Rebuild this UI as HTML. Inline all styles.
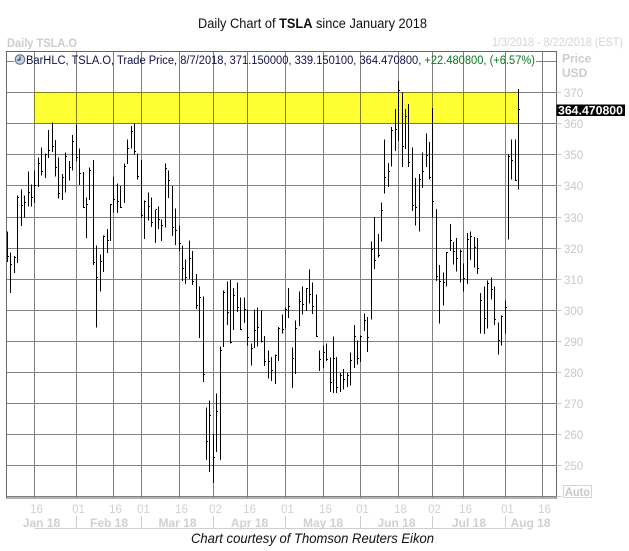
<!DOCTYPE html>
<html>
<head>
<meta charset="utf-8">
<title>Daily Chart of TSLA since January 2018</title>
<style>
html,body{margin:0;padding:0;background:#fff;}
svg{display:block;}
text{font-family:"Liberation Sans",sans-serif;}
</style>
</head>
<body>
<svg id="chart" xmlns="http://www.w3.org/2000/svg" width="629" height="551" viewBox="0 0 629 551">
  <rect x="0" y="0" width="629" height="551" fill="#ffffff"/>
  <text x="198" y="28" font-size="14" fill="#111111" textLength="229" lengthAdjust="spacingAndGlyphs">Daily Chart of <tspan font-weight="bold">TSLA</tspan> since January 2018</text>
  <text x="7" y="47" font-size="12" font-weight="bold" fill="#cccccc" textLength="70" lengthAdjust="spacingAndGlyphs">Daily TSLA.O</text>
  <text x="492" y="46" font-size="12" fill="#d4d4d4" textLength="131" lengthAdjust="spacingAndGlyphs">1/3/2018 - 8/22/2018 (EST)</text>
  <g id="grid"></g>
  <rect id="zone" fill="#ffff33" style="mix-blend-mode:multiply"/>
  <g id="bars"></g>
  <rect x="6.5" y="51.5" width="550" height="446.5" fill="none" stroke="#666666" stroke-width="1" shape-rendering="crispEdges"/>
  <g id="yaxis"></g>
  <g id="xaxis"></g>
  <g>
    <circle cx="20" cy="59.5" r="4.8" fill="#c5d4e6" stroke="#52688a" stroke-width="1"/>
    <path d="M20 56.5V60H17" fill="none" stroke="#222222" stroke-width="1"/>
    <text x="26" y="64" font-size="11.5" fill="#10104a" textLength="509" lengthAdjust="spacingAndGlyphs">BarHLC, TSLA.O, Trade Price, 8/7/2018, 371.150000, 339.150100, 364.470800, <tspan fill="#0a7a1e">+22.480800, (+6.57%)</tspan></text>
  </g>
  <text x="562" y="62.5" font-size="12" font-weight="bold" fill="#cccccc">Price</text>
  <text x="562" y="77" font-size="12" font-weight="bold" fill="#cccccc">USD</text>
  <rect x="556.5" y="104.5" width="68.5" height="11.5" fill="#000000"/>
  <text x="558" y="114.5" font-size="12" font-weight="bold" fill="#ffffff" textLength="65" lengthAdjust="spacingAndGlyphs">364.470800</text>
  <rect x="563.5" y="485.5" width="28" height="12" fill="#ffffff" stroke="#d4d4d4"/>
  <text x="565" y="496" font-size="11.5" font-weight="bold" fill="#c8c8c8" textLength="25" lengthAdjust="spacingAndGlyphs">Auto</text>
  <text x="191" y="543" font-size="14" font-style="italic" fill="#111111" textLength="243" lengthAdjust="spacingAndGlyphs">Chart courtesy of Thomson Reuters Eikon</text>
</svg>
<script>
const highs = [325.4,318.6,317.4,336.9,338.8,336.9,344.7,340.4,344.9,349.1,352.3,350.4,357.9,360.4,354.7,349.1,343.9,350.7,348.0,356.3,359.8,352.0,344.5,336.2,345.9,348.4,320.8,317.9,324.0,326.2,334.1,343.1,340.7,340.0,347.2,355.0,359.2,360.0,350.4,348.4,335.3,337.8,336.2,332.4,333.4,329.2,347.2,345.0,339.9,332.7,327.3,320.9,316.3,322.4,319.0,311.6,307.7,304.5,268.8,271.0,260.3,273.3,288.4,306.4,309.3,309.7,307.1,309.0,304.1,304.1,300.2,289.3,300.3,300.9,300.0,291.7,287.1,285.0,285.8,294.6,298.7,300.9,307.1,288.1,296.8,306.0,307.7,307.1,313.1,309.0,305.1,287.1,288.7,289.3,284.8,291.6,285.0,279.9,281.2,279.8,286.5,295.2,290.3,291.9,298.9,297.9,322.2,330.0,324.5,334.7,355.0,347.4,359.0,364.7,373.7,370.1,364.7,366.3,352.4,342.5,343.8,350.8,356.9,354.1,365.0,332.5,314.5,312.2,318.7,327.7,321.9,323.2,319.6,315.1,324.8,325.4,323.5,323.2,305.5,307.7,309.6,310.6,307.7,296.1,298.4,303.2,350.2,355.0,355.0,371.1];
const lows = [315.5,305.5,312.0,315.2,327.1,329.8,333.3,333.3,334.5,339.7,343.4,342.5,349.0,350.9,343.1,336.0,335.4,337.9,341.8,345.0,348.0,340.3,332.9,323.2,335.5,314.6,294.5,306.1,312.3,318.4,322.3,331.5,331.3,332.9,334.5,347.1,352.1,350.1,342.0,329.7,322.9,328.9,326.8,321.6,326.2,322.3,326.6,336.1,323.9,321.0,319.1,309.4,308.5,310.0,308.1,300.4,291.1,276.9,251.8,248.0,244.5,254.4,251.8,288.2,295.2,289.3,293.6,299.5,293.6,295.9,288.7,282.3,287.8,288.4,289.6,282.1,278.1,277.3,276.3,283.7,292.5,294.1,297.5,275.0,279.5,295.0,298.7,299.8,302.2,298.8,291.4,280.5,281.4,283.7,273.7,273.4,273.4,273.7,274.5,275.3,275.9,281.4,282.6,283.3,293.3,286.6,297.1,313.3,316.9,322.2,337.6,339.6,346.3,351.2,354.4,346.0,351.8,346.0,331.9,327.3,325.4,339.3,346.0,342.1,329.8,309.4,295.8,301.6,307.7,319.0,314.8,312.5,309.0,306.1,308.4,316.1,313.8,311.6,292.6,292.3,294.2,303.5,295.2,285.8,288.7,292.6,322.8,342.1,341.5,338.9];
const closes = [317.4,314.7,316.9,336.2,333.6,334.6,337.8,336.2,340.1,347.2,344.6,350.2,351.3,352.6,345.9,337.5,342.7,349.4,345.9,354.2,349.0,343.9,333.0,334.0,344.9,315.3,310.5,315.6,323.7,322.4,334.0,335.6,335.0,333.2,346.1,352.0,357.5,351.0,342.9,330.5,335.0,333.3,328.2,332.4,329.2,327.2,345.5,341.7,326.6,325.7,321.4,313.5,310.5,316.7,309.1,301.5,304.1,279.3,257.8,266.1,252.6,267.4,287.0,305.8,299.2,289.5,304.9,300.9,293.9,300.2,291.3,287.7,293.5,294.4,290.1,283.6,283.5,280.7,285.5,294.3,293.7,300.2,301.3,284.4,294.1,302.9,301.9,307.0,305.1,301.3,291.7,284.1,286.5,284.3,276.7,284.4,275.1,279.1,277.7,279.0,283.9,291.7,284.6,291.7,296.6,291.1,319.6,316.0,317.6,332.1,342.7,344.6,357.8,358.1,370.7,352.7,362.4,347.6,333.7,333.0,342.1,344.7,349.8,342.8,335.0,310.9,309.2,308.9,318.6,322.4,318.9,316.6,319.0,310.3,322.8,323.8,320.2,313.4,303.1,297.3,308.7,306.8,297.0,290.3,298.1,300.8,349.4,348.2,341.8,364.5];
const priceTicks = [370,360,350,340,330,320,310,300,290,280,270,260,250];
const hiddenPriceLines = [380,240];
const dayTickIndex = [8,20,31,39,50,60,70,81,92,103,114,124,133,145,156];
const dayTickLabels = ['16','01','16','01','16','02','16','01','16','01','18','02','16','01','16'];
const monthLabels = ['Jan 18','Feb 18','Mar 18','Apr 18','May 18','Jun 18','Jul 18','Aug 18'];
const monthStartIndex = [8,20,39,60,81,103,124,145];
const monthEndIndex = [20,39,60,81,103,124,145,150];
const zoneLow = 360;
const zoneHigh = 370;

const NS = 'http://www.w3.org/2000/svg';
function xRaw(i){ return 7.52 + 3.431 * i; }
function xPos(i){ return Math.floor(xRaw(i)) + 0.5; }
function yRaw(v){ return 92.6 + (370 - v) * 3.11; }
function yPos(v){ return Math.floor(yRaw(v)) + 0.5; }
function line(parent, x1, y1, x2, y2, stroke){
  const l = document.createElementNS(NS, 'line');
  l.setAttribute('x1', x1);
  l.setAttribute('y1', y1);
  l.setAttribute('x2', x2);
  l.setAttribute('y2', y2);
  l.setAttribute('stroke', stroke);
  l.setAttribute('stroke-width', 1);
  l.setAttribute('shape-rendering', 'crispEdges');
  parent.appendChild(l);
  return l;
}
function label(parent, x, y, str, size, weight, fill){
  const t = document.createElementNS(NS, 'text');
  t.setAttribute('x', x);
  t.setAttribute('y', y);
  t.setAttribute('font-size', size);
  t.setAttribute('font-weight', weight);
  t.setAttribute('fill', fill);
  t.textContent = str;
  parent.appendChild(t);
  return t;
}
const grid = document.getElementById('grid');
const bars = document.getElementById('bars');
const yaxis = document.getElementById('yaxis');
const xaxis = document.getElementById('xaxis');

priceTicks.forEach(function(v){
  const g = line(grid, 6.5, yPos(v), 556.5, yPos(v), '#808080');
  
  
  const tk = line(yaxis, 556.5, yPos(v), 561.5, yPos(v), '#c8c8c8');
  
  
  const t = label(yaxis, 564, yPos(v) + 4.5, String(v), 11.5, 'normal', '#c8c8c8');
  
  
});
hiddenPriceLines.forEach(function(v){
  const first = line(grid, 6.5, yPos(v), v === 380 ? 14 : 556.5, yPos(v), '#808080');
  
  
  if (v === 380) {
    const second = line(grid, 536, yPos(v), 556.5, yPos(v), '#808080');
    
    
  }
});
dayTickIndex.forEach(function(idx, k){
  const g = line(grid, xPos(idx), 51.5, xPos(idx), 497.5, '#808080');
  
  
  const t = label(xaxis, xPos(idx) + 2, 513, dayTickLabels[k], 11.5, 'normal', '#d0d0d0');
  t.setAttribute('text-anchor', 'middle');
  
  
});
const zone = document.getElementById('zone');
zone.setAttribute('x', xPos(dayTickIndex[0]) - 0.5);
zone.setAttribute('y', yPos(zoneHigh) - 0.5);
zone.setAttribute('width', xPos(highs.length - 1) - xPos(dayTickIndex[0]) + 0.5);
zone.setAttribute('height', yPos(zoneLow) - yPos(zoneHigh) + 1);

const baseline = line(xaxis, xPos(monthStartIndex[0]), 528.5, xPos(monthEndIndex[7]), 528.5, '#cfcfcf');


const stub = line(xaxis, 556.5, 496.5, 561.5, 496.5, '#c8c8c8');


const inner = line(xaxis, 6.5, 496.5, 556.5, 496.5, '#808080');


monthLabels.forEach(function(name, k){
  const mid = (xPos(monthStartIndex[k]) + xPos(monthEndIndex[k])) / 2;
  const shift = k === 0 ? -14 : (k === monthLabels.length - 1 ? 16.5 : 0);
  const t = label(xaxis, mid + shift, 527, name, 12, 'bold', '#d0d0d0');
  t.setAttribute('text-anchor', 'middle');
  
  
  if (k > 0) {
    const sep = line(xaxis, xPos(monthStartIndex[k]), 516, xPos(monthStartIndex[k]), 528, '#cfcfcf');
    
    
  }
});
highs.forEach(function(h, i){
  const x = xPos(i);
  const b = line(bars, x, yRaw(h), x, yRaw(lows[i]), '#000000');
  
  
  const c = line(bars, x + 0.5, yPos(closes[i]), x + 1.5, yPos(closes[i]), '#000000');
  
  
});
</script>
</body>
</html>
